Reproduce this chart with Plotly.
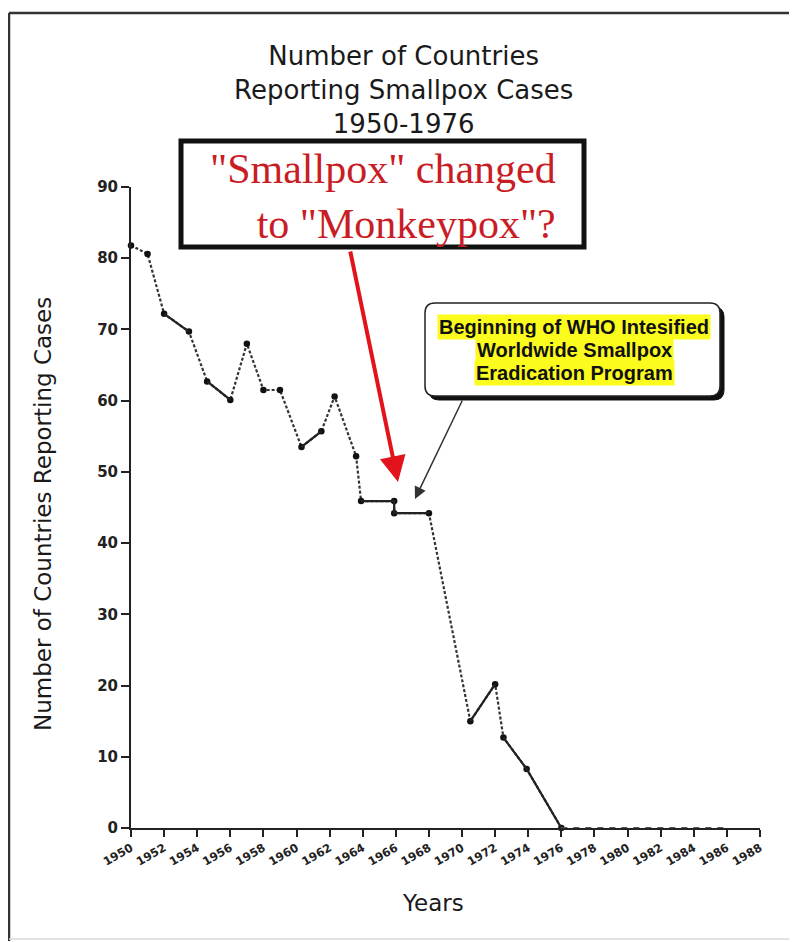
import plotly.graph_objects as go

# ---- data ----
years = [1950, 1951, 1952, 1953.5, 1954.6, 1956, 1957, 1958, 1959, 1960.3, 1961.5,
         1962.3, 1963.6, 1963.9, 1965.9, 1965.9, 1968, 1970.5, 1972, 1972.5, 1973.9, 1976]
countries = [81.8, 80.6, 72.2, 69.7, 62.7, 60.1, 68.0, 61.5, 61.5, 53.5, 55.7,
             60.6, 52.2, 45.9, 45.9, 44.2, 44.2, 15.0, 20.2, 12.7, 8.3, 0]
after_years = [1976, 1986]
after_values = [0, 0]
x_ticks = list(range(1950, 1989, 2))
y_ticks = list(range(0, 91, 10))

title_lines = ["Number of Countries", "Reporting Smallpox Cases", "1950-1976"]
callout_lines = ["Beginning of WHO Intesified", "Worldwide Smallpox", "Eradication Program"]
red_note = '"Smallpox" changed<br>to "Monkeypox"?'

# ---- geometry (page pixels; browser body margin is 8px) ----
OFF = 8
W, H = 797 - OFF, 942 - OFF
L, R, T, B = 131, 760, 187, 828          # plot area in page pixels
PW, PH = R - L, B - T


def px(x):
    return (x - L) / PW


def py(y):
    return (B - y) / PH


fig = go.Figure()

# main dotted line with markers
fig.add_trace(go.Scatter(
    x=years, y=countries, mode="lines+markers",
    line=dict(color="#333333", width=2.2, dash="3px,2px"),
    marker=dict(color="#111111", size=6.5),
    cliponaxis=False, showlegend=False, hoverinfo="skip"))

# solid segments (index ranges)
solid_segments = [(2, 3), (4, 5), (9, 10), (13, 16), (17, 18), (19, 21)]
for a, b in solid_segments:
    fig.add_trace(go.Scatter(
        x=years[a:b + 1], y=countries[a:b + 1], mode="lines",
        line=dict(color="#222222", width=2.2),
        cliponaxis=False, showlegend=False, hoverinfo="skip"))

# trailing zeros after eradication
fig.add_trace(go.Scatter(
    x=after_years, y=after_values, mode="lines",
    line=dict(color="#555555", width=2, dash="6px,6px"),
    cliponaxis=False, showlegend=False, hoverinfo="skip"))

fig.update_layout(
    width=W, height=H,
    margin=dict(l=L - OFF, r=W - (R - OFF), t=T - OFF, b=H - (B - OFF)),
    paper_bgcolor="white", plot_bgcolor="white",
    xaxis=dict(range=[1950, 1988], tickvals=x_ticks,
               ticktext=[f"<b>{v}</b>" for v in x_ticks], tickangle=-30,
               showgrid=False, zeroline=False, showline=True, linecolor="#222222",
               linewidth=2, ticks="outside", ticklen=7, tickwidth=2, tickcolor="#222222",
               tickfont=dict(family="DejaVu Sans", size=11.5, color="#222222")),
    yaxis=dict(range=[0, 90], tickvals=y_ticks,
               ticktext=[f"<b>{v}</b>" for v in y_ticks],
               showgrid=False, zeroline=False, showline=True, linecolor="#222222",
               linewidth=2, ticks="outside", ticklen=8, tickwidth=2, tickcolor="#222222",
               tickfont=dict(family="DejaVu Sans", size=15, color="#222222")),
)

shapes = []
# page frame
shapes.append(dict(type="line", xref="paper", yref="paper", x0=px(9), y0=py(13), x1=px(9), y1=py(941),
                   line=dict(color="#333333", width=2.5), layer="above"))
shapes.append(dict(type="line", xref="paper", yref="paper", x0=px(9), y0=py(13), x1=px(800), y1=py(13),
                   line=dict(color="#333333", width=2.5), layer="above"))
shapes.append(dict(type="line", xref="paper", yref="paper", x0=px(9), y0=py(939), x1=px(800), y1=py(939),
                   line=dict(color="#d8d8d8", width=1.5), layer="above"))

# red note box
shapes.append(dict(type="rect", xref="paper", yref="paper", x0=px(181), y0=py(141), x1=px(584), y1=py(247),
                   line=dict(color="#111111", width=5), fillcolor="white", layer="above"))


def rounded(x0, y0, x1, y1, r):
    def P(x, y):
        return f"{px(x):.5f},{py(y):.5f}"
    parts = [f"M {P(x0 + r, y0)}", f"L {P(x1 - r, y0)}", f"Q {P(x1, y0)} {P(x1, y0 + r)}",
             f"L {P(x1, y1 - r)}", f"Q {P(x1, y1)} {P(x1 - r, y1)}", f"L {P(x0 + r, y1)}",
             f"Q {P(x0, y1)} {P(x0, y1 - r)}", f"L {P(x0, y0 + r)}", f"Q {P(x0, y0)} {P(x0 + r, y0)}", "Z"]
    return " ".join(parts)


# callout shadow + box
shapes.append(dict(type="path", xref="paper", yref="paper", path=rounded(429, 307, 724, 400, 10),
                   line=dict(color="#111111", width=1), fillcolor="#111111", layer="above"))
shapes.append(dict(type="path", xref="paper", yref="paper", path=rounded(425, 303, 720, 396, 10),
                   line=dict(color="#222222", width=1.5), fillcolor="white", layer="above"))

fig.update_layout(shapes=shapes)

ann = []
# title
ann.append(dict(xref="paper", yref="paper", x=px(403), y=py(90), xanchor="center", yanchor="middle",
                text="<br>".join(title_lines), showarrow=False,
                font=dict(family="DejaVu Sans", size=26, color="#1a1a1a")))
# axis titles
ann.append(dict(xref="paper", yref="paper", x=px(43), y=py(514), xanchor="center", yanchor="middle",
                text="Number of Countries Reporting Cases", textangle=-90, showarrow=False,
                font=dict(family="DejaVu Sans", size=23, color="#1a1a1a")))
ann.append(dict(xref="paper", yref="paper", x=px(433), y=py(903), xanchor="center", yanchor="middle",
                text="Years", showarrow=False,
                font=dict(family="DejaVu Sans", size=23, color="#1a1a1a")))
# red note text
ann.append(dict(xref="paper", yref="paper", x=px(558), y=py(196), xanchor="right", yanchor="middle",
                text=red_note, align="right", showarrow=False,
                font=dict(family="Liberation Serif", size=42, color="#c91d26")))
# red arrow
ann.append(dict(xref="paper", yref="paper", x=px(398), y=py(482), ax=-48, ay=-232, text="",
                showarrow=True, arrowhead=2, arrowsize=1.3, arrowwidth=4, arrowcolor="#e3131b",
                standoff=0))
# callout arrow
ann.append(dict(xref="paper", yref="paper", x=px(415), y=py(499), ax=48, ay=-100, text="",
                showarrow=True, arrowhead=2, arrowsize=1.6, arrowwidth=1.5, arrowcolor="#333333",
                standoff=0))
# callout lines with yellow highlight
for i, line in enumerate(callout_lines):
    ann.append(dict(xref="paper", yref="paper", x=px(574), y=py(327 + 23 * i), xanchor="center",
                    yanchor="middle", text=f"<b>{line}</b>", showarrow=False,
                    bgcolor="#fbfb1e", borderpad=1,
                    font=dict(family="Liberation Sans", size=20, color="#111111")))

fig.update_layout(annotations=ann)

fig.write_html("out.html")
